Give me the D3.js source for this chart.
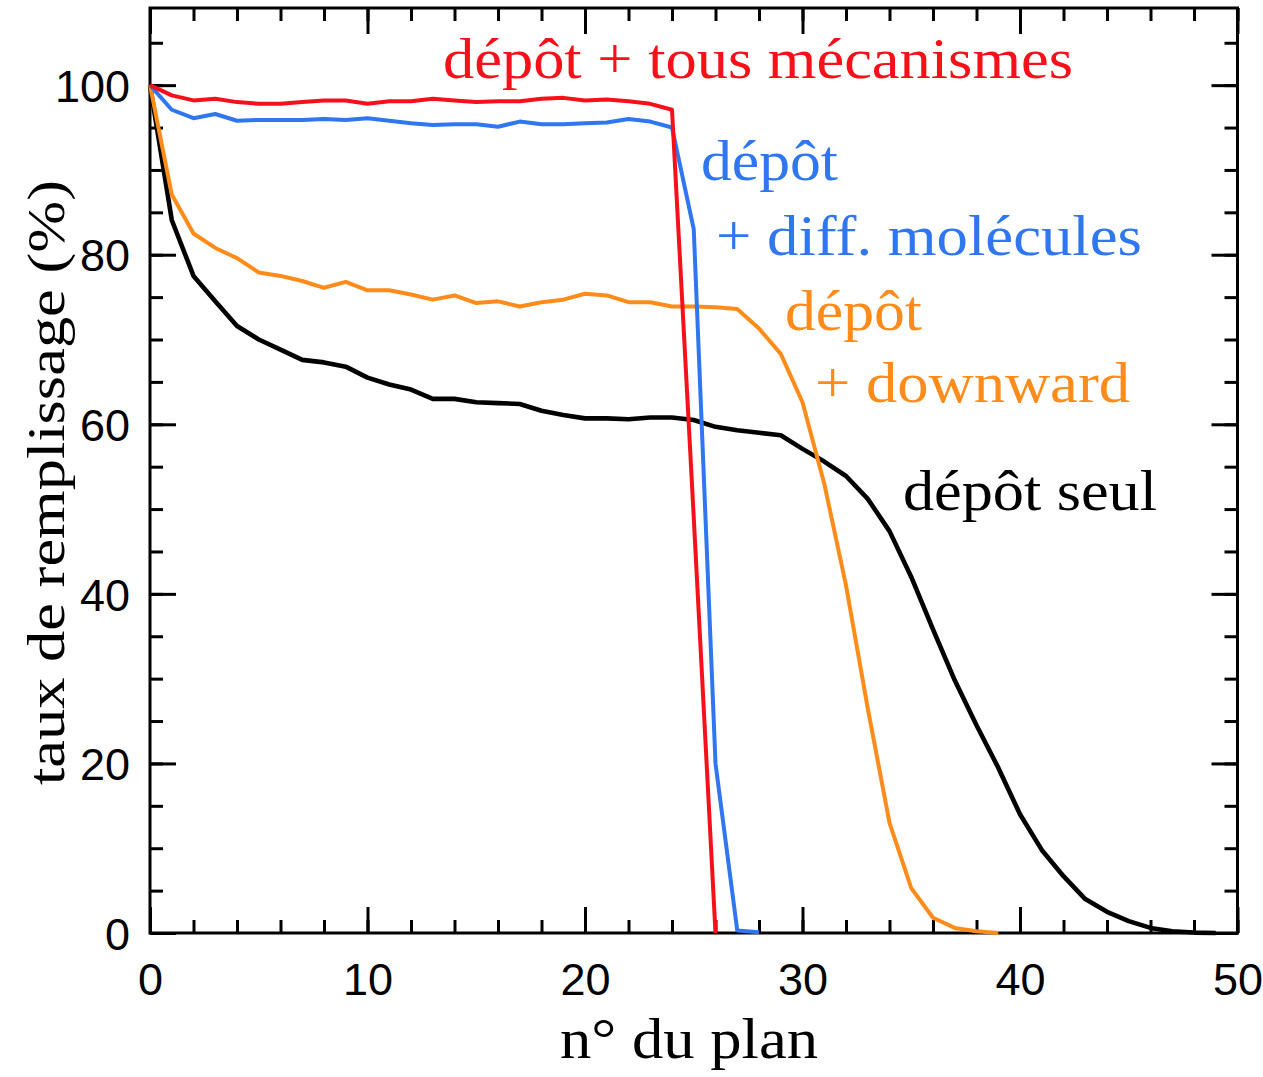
<!DOCTYPE html>
<html>
<head>
<meta charset="utf-8">
<script src="https://cdn.jsdelivr.net/npm/d3@7"></script>
<style>
  body { margin: 0; background: #fff; }
  svg { display: block; }
</style>
</head>
<body>
<svg id="chart" width="1263" height="1077"></svg>
<script>
// taux de remplissage (%) par plan, un point par plan (0, 1, 2, ...)
var depotSeul = [100, 84.1, 77.5, 74.5, 71.6, 70.0, 68.8, 67.6, 67.3, 66.8, 65.5, 64.7, 64.1, 63.0, 63.0,
    62.6, 62.5, 62.4, 61.6, 61.1, 60.7, 60.7, 60.6, 60.8, 60.8, 60.5, 59.7, 59.3, 59.0, 58.7,
    57.1, 55.6, 53.9, 51.2, 47.4, 42.0, 35.8, 29.8, 24.5, 19.5, 14.0, 9.8, 6.7, 4.0, 2.5,
    1.4, 0.6, 0.2, 0.05, 0.0];
var depotDownward = [100, 87.1, 82.5, 80.8, 79.6, 77.9, 77.5, 76.9, 76.1, 76.8, 75.8, 75.8, 75.3, 74.7, 75.2,
    74.3, 74.5, 73.9, 74.4, 74.7, 75.4, 75.2, 74.4, 74.4, 73.9, 73.9, 73.8, 73.6, 71.3, 68.3,
    62.6, 53.0, 41.0, 26.5, 13.0, 5.3, 1.8, 0.6, 0.2, 0.0];
var depotDiff = [100, 97.1, 96.1, 96.6, 95.8, 95.9, 95.9, 95.9, 96.0, 95.9, 96.1, 95.8, 95.5, 95.3, 95.4,
    95.4, 95.1, 95.7, 95.4, 95.4, 95.5, 95.6, 96.0, 95.7, 95.0, 83.0, 20.0, 0.3, 0.1];
var depotTous = [100, 98.8, 98.2, 98.4, 98.0, 97.8, 97.8, 98.0, 98.2, 98.2, 97.8, 98.1, 98.1, 98.4, 98.2,
    98.0, 98.1, 98.1, 98.4, 98.5, 98.2, 98.3, 98.1, 97.8, 97.1, 49.0, 0.0];

var xTicks = [0, 10, 20, 30, 40, 50];
var yTicks = [0, 20, 40, 60, 80, 100];

var svg = d3.select("#chart");
var plotL = 150, plotR = 1237.5, plotT = 8, plotB = 933;

var x = d3.scaleLinear().domain([0, 50]).range([plotL, plotR]);
var y = d3.scaleLinear().domain([0, 109.1]).range([plotB, plotT]);

var tickFont = "'Liberation Sans', Arial, sans-serif";
var serif = "'Liberation Serif', 'Times New Roman', serif";

// minor ticks (inward, all four sides)
var xMinor = d3.range(0, 51, 2), yMinor = d3.range(0, 106, 5);
svg.append("g").attr("transform", "translate(0," + plotB + ")")
    .call(d3.axisBottom(x).tickValues(xMinor).tickSize(-13).tickFormat(""));
svg.append("g").attr("transform", "translate(0," + plotT + ")")
    .call(d3.axisTop(x).tickValues(xMinor).tickSize(-13).tickFormat(""));
svg.append("g").attr("transform", "translate(" + plotL + ",0)")
    .call(d3.axisLeft(y).tickValues(yMinor).tickSize(-13).tickFormat(""));
svg.append("g").attr("transform", "translate(" + plotR + ",0)")
    .call(d3.axisRight(y).tickValues(yMinor).tickSize(-13).tickFormat(""));

// major ticks + labels
var xAxis = svg.append("g").attr("transform", "translate(0," + plotB + ")")
    .call(d3.axisBottom(x).tickValues(xTicks).tickSize(-26).tickPadding(62).tickFormat(d3.format("d")));
svg.append("g").attr("transform", "translate(0," + plotT + ")")
    .call(d3.axisTop(x).tickValues(xTicks).tickSize(-26).tickFormat(""));
var yAxis = svg.append("g").attr("transform", "translate(" + plotL + ",0)")
    .call(d3.axisLeft(y).tickValues(yTicks).tickSize(-26).tickPadding(20).tickFormat(d3.format("d")));
svg.append("g").attr("transform", "translate(" + plotR + ",0)")
    .call(d3.axisRight(y).tickValues(yTicks).tickSize(-26).tickFormat(""));

svg.selectAll(".domain").remove();
svg.selectAll(".tick line").attr("stroke", "#000").attr("stroke-width", 3);
xAxis.selectAll("text").attr("font-family", tickFont).attr("font-size", 45).attr("fill", "#000").attr("dy", 0);
yAxis.selectAll("text").attr("font-family", tickFont).attr("font-size", 45).attr("fill", "#000").attr("dy", "0.36em");

// frame
svg.append("rect")
    .attr("x", plotL).attr("y", plotT)
    .attr("width", plotR - plotL).attr("height", plotB - plotT)
    .attr("fill", "none").attr("stroke", "#000").attr("stroke-width", 3);

var series = [
    {values: depotSeul, color: "#000000", w: 4.6},
    {values: depotDownward, color: "#ff8c1a", w: 4},
    {values: depotDiff, color: "#2f76f0", w: 4},
    {values: depotTous, color: "#f5101a", w: 4}
];

var line = d3.line()
    .x(function (d, i) { return x(i); })
    .y(function (d) { return y(d); });

svg.selectAll("path.serie")
    .data(series)
    .enter()
    .append("path")
    .attr("class", "serie")
    .attr("d", function (d) { return line(d.values); })
    .attr("fill", "none")
    .attr("stroke", function (d) { return d.color; })
    .attr("stroke-width", function (d) { return d.w; })
    .attr("stroke-linejoin", "round");

// annotations
function note(txt, px, py, len, color) {
    svg.append("text")
        .attr("x", px).attr("y", py)
        .attr("font-family", serif).attr("font-size", 56)
        .attr("fill", color)
        .attr("textLength", len).attr("lengthAdjust", "spacingAndGlyphs")
        .text(txt);
}
note("dépôt + tous mécanismes", 443, 78, 630, "#f5101a");
note("dépôt", 701, 180, 137, "#2f76f0");
note("+ diff. molécules", 716, 255, 426, "#2f76f0");
note("dépôt", 785, 330, 137, "#ff8c1a");
note("+ downward", 815, 402, 315, "#ff8c1a");
note("dépôt seul", 903, 510, 254, "#000");

// axis titles
svg.append("text")
    .attr("x", 560).attr("y", 1058)
    .attr("font-family", serif).attr("font-size", 56)
    .attr("textLength", 258).attr("lengthAdjust", "spacingAndGlyphs")
    .text("n° du plan");

svg.append("text")
    .attr("transform", "translate(64,785) rotate(-90)")
    .attr("font-family", serif).attr("font-size", 52)
    .attr("textLength", 605).attr("lengthAdjust", "spacingAndGlyphs")
    .text("taux de remplissage (%)");
</script>
</body>
</html>
